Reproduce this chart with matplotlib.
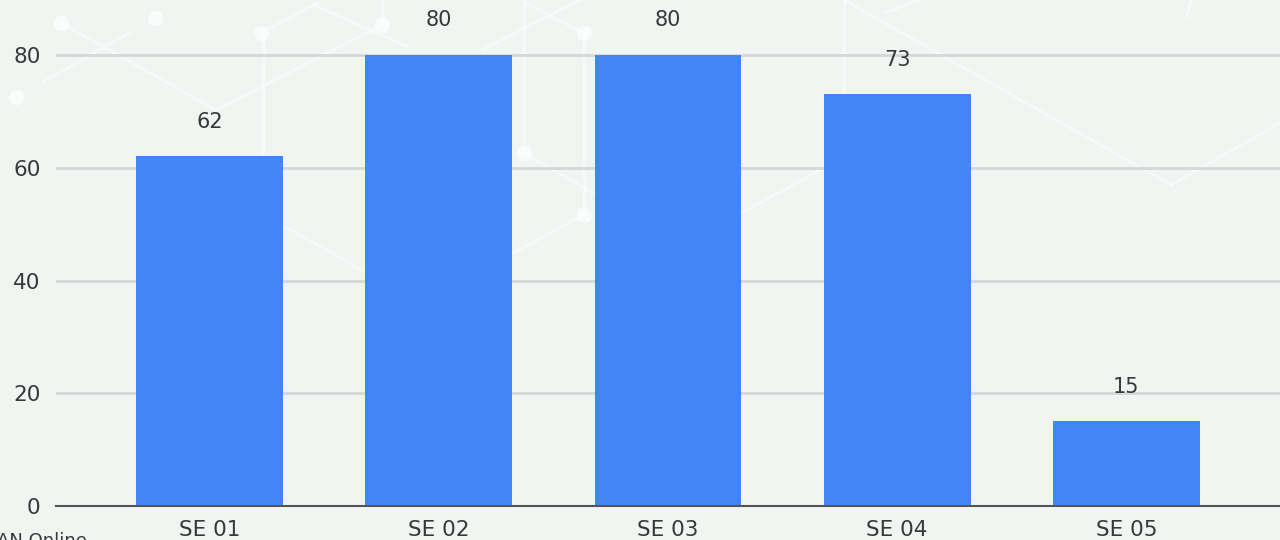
import matplotlib.pyplot as plt
from matplotlib.lines import Line2D

categories = ['SE 01', 'SE 02', 'SE 03', 'SE 04', 'SE 05']
values = [62, 80, 80, 73, 15]
yticks = [0, 20, 40, 60, 80]

bg = '#f0f5f2'
bar_color = '#4285f4'
text_color = '#383838'

plt.rcParams['font.family'] = ['DejaVu Sans']

fig = plt.figure(figsize=(12.8, 5.4), dpi=100, facecolor=bg)

# faint network pattern behind the chart (pixel coords, origin top-left)
W, H = 1280, 540
segs = [((61, 23), (216, 110)), ((216, 110), (382, 25)), ((263, 33), (263, 160)),
        ((43, 82), (129, 33)), ((261, 33), (318, 3)), ((314, 5), (408, 47)),
        ((382, 0), (382, 25)), ((524, 0), (524, 153)), ((524, 2), (584, 33)),
        ((482, 50), (580, 0)), ((584, 33), (584, 215)), ((524, 153), (593, 193)),
        ((513, 253), (584, 215)), ((286, 227), (367, 273)),
        ((844, 0), (844, 95)), ((844, 0), (1171, 185)), ((1171, 185), (1280, 123)),
        ((885, 13), (918, 0)), ((742, 213), (820, 170)), ((1187, 17), (1191, 0))]
for (x0, y0), (x1, y1) in segs:
    fig.add_artist(Line2D([x0 / W, x1 / W], [1 - y0 / H, 1 - y1 / H],
                          color='white', lw=1.8, alpha=0.55, zorder=0))
dots = [(61, 23), (155, 18), (261, 33), (382, 25), (16, 97),
        (524, 153), (584, 33), (584, 215)]
for x, y in dots:
    fig.add_artist(Line2D([x / W], [1 - y / H], marker='o', ms=11,
                          color='white', mec='none', alpha=0.7, zorder=0))

ax = fig.add_axes([56 / W, 34 / H, 1 - 56 / W, 506 / H])
ax.set_facecolor('none')

x = range(len(categories))
ax.bar(x, values, width=0.64, color=bar_color, zorder=3)
for xi, v in zip(x, values):
    ax.annotate(str(v), (xi, v), xytext=(0, 25), textcoords='offset points',
                ha='center', va='center', fontsize=15, color=text_color)

ax.set_xlim(-0.67, 4.67)
ax.set_ylim(0, 89.76)
ax.set_yticks(yticks)
ax.set_xticks(list(x))
ax.set_xticklabels(categories)
ax.yaxis.grid(True, color='#d6d8d7', lw=2, zorder=1)
ax.set_axisbelow(True)
for s in ['top', 'right', 'left']:
    ax.spines[s].set_visible(False)
ax.spines['bottom'].set_color('#555555')
ax.spines['bottom'].set_linewidth(1.5)
ax.spines['bottom'].set_zorder(4)
ax.tick_params(axis='both', length=0, labelsize=15.5, colors=text_color)
ax.tick_params(axis='y', pad=11)
ax.tick_params(axis='x', pad=10)

# footer text, clipped by the bottom edge like in the original
fig.text(-3 / W, -6 / H, 'AN Online', fontsize=13, color=text_color,
         ha='left', va='baseline')

fig.savefig('out.png', dpi=100, facecolor=bg)
